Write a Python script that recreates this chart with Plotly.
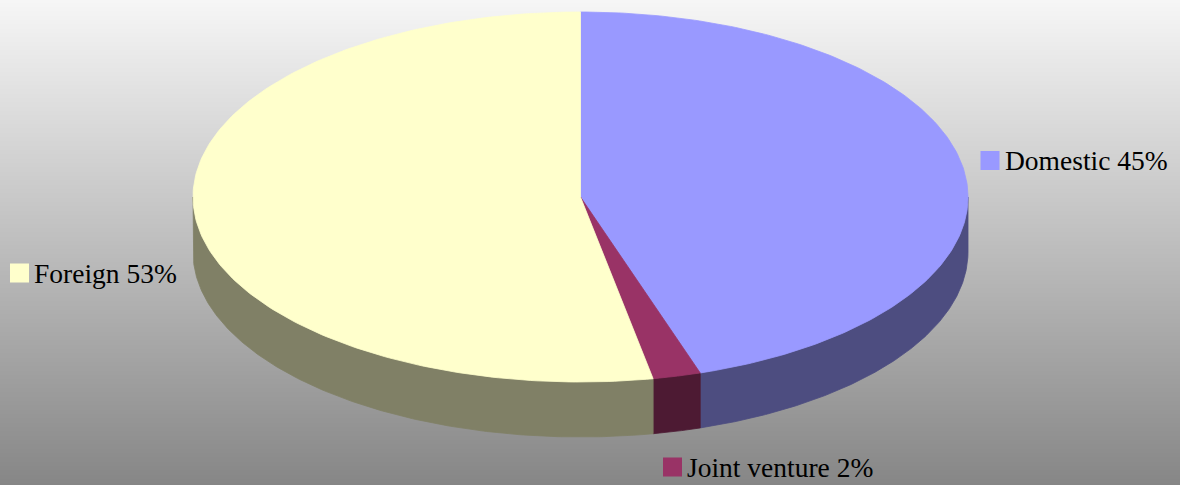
import numpy as np
import plotly.graph_objects as go

# ---- data ----
labels = ["Domestic", "Joint venture", "Foreign"]
values = [45, 2, 53]

# ---- styles ----
top_colors = ["#9999FF", "#993366", "#FFFFCC"]
side_colors = ["#4D4D80", "#4D1A33", "#808066"]
label_pos = {  # (key-square centre x, y, text left x)
    "Domestic": (990, 160.5, 1004),
    "Joint venture": (672.5, 467, 686),
    "Foreign": (19.5, 273, 33),
}

W, H = 1180, 485
cx, cy, rx, ry, depth = 580.5, 197, 387.5, 185, 55


def arc(a, b, dy=0.0, n=200):
    t = np.radians(np.linspace(a, b, n))
    return cx + rx * np.sin(t), cy - ry * np.cos(t) + dy


fig = go.Figure()

# background gradient
fig.add_trace(go.Heatmap(
    x=[0, W], y=[0, H], z=[[246, 246], [134, 134]],
    zsmooth="best", zmin=134, zmax=246, showscale=False, hoverinfo="skip",
    colorscale=[[0, "rgb(134,134,134)"], [1, "rgb(246,246,246)"]],
))

total = sum(values)
angles = np.cumsum([0] + [v / total * 360 for v in values])

# side walls (front half only)
for i, lab in enumerate(labels):
    a, b = max(angles[i], 90), min(angles[i + 1], 270)
    if a < b:
        xt, yt = arc(a, b)
        xb, yb = arc(a, b, depth)
        xs = np.concatenate([xt, xb[::-1], xt[:1]])
        ys = np.concatenate([yt, yb[::-1], yt[:1]])
        fig.add_trace(go.Scatter(x=xs, y=ys, fill="toself", mode="lines",
                                 fillcolor=side_colors[i],
                                 line=dict(color=side_colors[i], width=0.8),
                                 hoverinfo="skip", showlegend=False))

# top faces
for i, lab in enumerate(labels):
    xa, ya = arc(angles[i], angles[i + 1])
    xs = np.concatenate([[cx], xa, [cx]])
    ys = np.concatenate([[cy], ya, [cy]])
    fig.add_trace(go.Scatter(x=xs, y=ys, fill="toself", mode="lines",
                             fillcolor=top_colors[i],
                             line=dict(color=top_colors[i], width=0.8),
                             hoverinfo="skip", showlegend=False))

# labels with key squares
for i, lab in enumerate(labels):
    sx, sy, tx = label_pos[lab]
    fig.add_trace(go.Scatter(x=[sx], y=[sy], mode="markers",
                             marker=dict(symbol="square", size=19, color=top_colors[i],
                                         line=dict(width=0)),
                             hoverinfo="skip", showlegend=False))
    pct = round(values[i] / total * 100)
    fig.add_annotation(x=tx, y=sy, text=f"{lab} {pct}%", showarrow=False,
                       xanchor="left", yanchor="middle", borderpad=0,
                       font=dict(family="Liberation Serif, Times New Roman, serif",
                                 size=27.5, color="#000000"))

fig.update_xaxes(range=[0, W], visible=False, fixedrange=True)
fig.update_yaxes(range=[H, 0], visible=False, fixedrange=True)
fig.update_layout(width=W, height=H, margin=dict(l=0, r=0, t=0, b=0),
                  paper_bgcolor="#c0c0c0", plot_bgcolor="#c0c0c0",
                  showlegend=False)

fig.write_html("out.html", config={"displayModeBar": False},
               post_script="document.body.style.margin='0';document.body.style.overflow='hidden';")
